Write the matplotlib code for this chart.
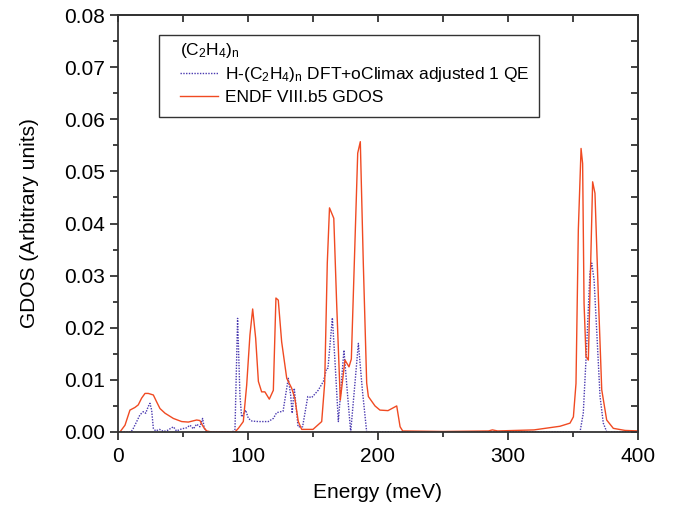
import numpy as np
import matplotlib
matplotlib.use("Agg")
import matplotlib.pyplot as plt
from matplotlib.ticker import MultipleLocator, FormatStrFormatter
from matplotlib.patches import Rectangle

plt.rcParams["font.family"] = ["Liberation Sans", "DejaVu Sans"]
plt.rcParams["mathtext.fontset"] = "custom"
plt.rcParams["mathtext.rm"] = "Liberation Sans"
plt.rcParams["mathtext.it"] = "Liberation Sans:italic"

# --- data ---
endf_energy = [0, 1.5, 5.4, 9.2, 13, 15.6, 18.2, 20.8, 23.3, 27.2, 29.7, 32.3, 36.2, 42.6,
               49, 54.1, 60.5, 63, 65.6, 68.2, 72, 90, 92.6, 96.4, 99, 101.5, 103.6, 105.9,
               108, 110.5, 113, 116.4, 119.5, 121.5, 123.3, 125.9, 129.8, 133.6, 136, 138.7,
               141.3, 150, 156.7, 159, 161, 162.7, 166, 168.2, 171, 174.6, 177.7, 179.5,
               184.4, 186.4, 188.7, 191.3, 192.6, 197.7, 201.5, 207.7, 214.4, 217, 219,
               250, 285, 288, 292, 320, 340, 347.7, 350.3, 352.3, 354.1, 356.2, 357.4,
               358.5, 360, 361.8, 363.6, 365.1, 366.9, 369.5, 372.1, 375.9, 381, 390, 400]
endf_gdos = [0, 0, 0.0013, 0.0042, 0.0047, 0.0052, 0.0065, 0.0074, 0.0074, 0.0071, 0.0058,
             0.0045, 0.0036, 0.0026, 0.0020, 0.0019, 0.0023, 0.0022, 0.0010, 0.0002, 0, 0,
             0.0007, 0.0020, 0.0090, 0.0186, 0.0236, 0.0180, 0.0097, 0.0077, 0.0077, 0.0063,
             0.0080, 0.0257, 0.0253, 0.0173, 0.0103, 0.0084, 0.0065, 0.0020, 0.0005, 0.0005,
             0.0020, 0.0094, 0.0324, 0.0430, 0.0410, 0.0247, 0.0061, 0.0138, 0.0125, 0.0140,
             0.0535, 0.0557, 0.0324, 0.0094, 0.0068, 0.0050, 0.0042, 0.0041, 0.0050, 0.0010,
             0.0002, 0.0001, 0.0002, 0.0004, 0.0002, 0.0004, 0.0011, 0.0017, 0.0029, 0.0093,
             0.0388, 0.0544, 0.0515, 0.0247, 0.0145, 0.0138, 0.0324, 0.0480, 0.0458, 0.0260,
             0.0081, 0.0023, 0.0007, 0.0003, 0.0002]

dft_energy = [0, 10, 11.8, 14.4, 16.9, 19.5, 21.3, 23.3, 24.6, 25.9, 27.2, 29, 32, 35, 38,
              42.6, 45, 49, 52.8, 55.4, 58, 60.5, 63, 65.1, 66.4, 68, 88, 90, 92, 93.8, 95.1,
              98.2, 100.3, 103, 108, 115.6, 119.5, 122, 127, 131, 132.8, 134, 135.6, 138.5,
              142, 146, 149, 154, 158, 160.5, 161.5, 164.9, 167, 169.5, 173.8, 176.7, 179,
              182.5, 184.9, 188, 191.3, 355.4, 357.9, 360.5, 363, 364.4, 366.2, 368.2, 370.8,
              373.3, 376, 400]
dft_gdos = [0, 0, 0.0007, 0.0020, 0.0033, 0.0039, 0.0036, 0.0049, 0.0055, 0.0042, 0.0007,
            0.0002, 0.0005, 0.0001, 0.0003, 0.0010, 0.0002, 0.0006, 0.0008, 0.0013, 0.0006,
            0.0015, 0.0010, 0.0026, 0.0007, 0, 0, 0.0005, 0.0218, 0.0071, 0.0029, 0.0042,
            0.0026, 0.0021, 0.0020, 0.0020, 0.0026, 0.0037, 0.0040, 0.0103, 0.0071, 0.0036,
            0.0084, 0.0010, 0.0010, 0.0068, 0.0066, 0.0080, 0.0097, 0.0122, 0.0122, 0.0219,
            0.0132, 0.0020, 0.0157, 0.0068, 0.0, 0.0100, 0.0170, 0.0080, 0, 0, 0.0036,
            0.0164, 0.0304, 0.0324, 0.0292, 0.0196, 0.0068, 0.0017, 0, 0]

AX_COLOR = "#333333"

# --- figure ---
fig = plt.figure(figsize=(6.73, 5.09), dpi=100)
ax = fig.add_axes([0.1753, 0.1513, 0.7727, 0.8192])

ax.plot(dft_energy, dft_gdos, color="#4a3ab0", lw=1.0, ls=(0, (1, 1)),
        label=r"H-(C$_2$H$_4$)$_\mathrm{n}$ DFT+oClimax adjusted 1 QE")
ax.plot(endf_energy, endf_gdos, color="#f04a22", lw=1.0,
        label="ENDF VIII.b5 GDOS")

ax.set_xlim(0, 400)
ax.set_ylim(0, 0.08)
ax.xaxis.set_major_locator(MultipleLocator(100))
ax.xaxis.set_minor_locator(MultipleLocator(50))
ax.yaxis.set_major_locator(MultipleLocator(0.01))
ax.yaxis.set_minor_locator(MultipleLocator(0.005))
ax.yaxis.set_major_formatter(FormatStrFormatter("%.2f"))

for s in ax.spines.values():
    s.set_linewidth(1.3)
    s.set_color(AX_COLOR)
ax.tick_params(which="major", direction="out", length=6, width=1.3, labelsize=15,
               color=AX_COLOR, top=False, right=False)
ax.tick_params(axis="x", which="major", pad=5)
ax.tick_params(which="minor", direction="out", length=3.5, width=1.3,
               color=AX_COLOR, top=False, right=False)

# right / top axes: ticks pointing inwards, no labels
sec_y = ax.secondary_yaxis("right")
sec_y.yaxis.set_major_locator(MultipleLocator(0.005))
sec_y.tick_params(direction="in", length=5, width=1.3, color=AX_COLOR, labelright=False)
sec_y.spines["right"].set_linewidth(1.3)
sec_y.spines["right"].set_color(AX_COLOR)

sec_x = ax.secondary_xaxis("top")
sec_x.xaxis.set_major_locator(MultipleLocator(50))
sec_x.tick_params(direction="in", length=5, width=1.3, color=AX_COLOR, labeltop=False)
sec_x.spines["top"].set_linewidth(1.3)
sec_x.spines["top"].set_color(AX_COLOR)

ax.set_xlabel("Energy (meV)", fontsize=15, labelpad=12)
ax.set_ylabel("GDOS (Arbitrary units)", fontsize=15, labelpad=18)

# legend (frame drawn separately so the inner left margin can be wider)
leg = ax.legend(title=r"(C$_2$H$_4$)$_\mathrm{n}$", loc="upper left",
                bbox_to_anchor=(0.119, 0.937), borderaxespad=0, borderpad=0,
                fontsize=12.5, title_fontsize=12.5, frameon=False, alignment="left",
                handlelength=2.2, handletextpad=0.4, labelspacing=0.3)
ax.add_patch(Rectangle((0.0788, 0.7554), 0.731, 0.1966, transform=ax.transAxes,
                       fill=False, edgecolor=AX_COLOR, lw=1.0, zorder=5))

fig.savefig("out.png", dpi=100)
